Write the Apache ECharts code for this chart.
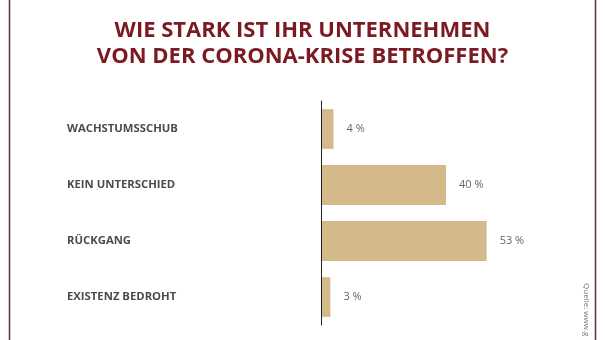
<!DOCTYPE html>
<html>
<head>
<meta charset="utf-8">
<script src="https://cdn.jsdelivr.net/npm/echarts@6/dist/echarts.min.js"></script>
<style>
html,body{margin:0;padding:0;background:#fff;}
#c{width:605px;height:340px;}
</style>
</head>
<body>
<div id="c"></div>
<script>
const titleLines = ['WIE STARK IST IHR UNTERNEHMEN', 'VON DER CORONA-KRISE BETROFFEN?'];
const categories = ['WACHSTUMSSCHUB', 'KEIN UNTERSCHIED', 'RÜCKGANG', 'EXISTENZ BEDROHT'];
const values = [4, 40, 53, 3];
const sourceText = 'Quelle: www.g';

const chart = echarts.init(document.getElementById('c'), null, {renderer: 'canvas'});
chart.setOption({
  animation: false,
  backgroundColor: '#fff',
  title: {
    text: titleLines.join('\n'),
    left: 'center',
    top: 13,
    textStyle: {
      fontFamily: 'Open Sans',
      fontWeight: 'bold',
      fontSize: 22,
      lineHeight: 26,
      color: '#7b1a22'
    }
  },
  grid: {left: 321, top: 101, width: 250, height: 224, containLabel: false},
  xAxis: {
    type: 'value', min: 0, max: 80,
    show: false
  },
  yAxis: {
    type: 'category',
    data: categories,
    inverse: true,
    z: 5,
    axisLine: {show: true, lineStyle: {color: '#222', width: 1}},
    axisTick: {show: false},
    splitLine: {show: false},
    axisLabel: {
      align: 'left',
      margin: 254,
      fontFamily: 'Open Sans',
      fontWeight: 'bold',
      fontSize: 11.3,
      color: '#4a4a4f'
    }
  },
  series: [{
    type: 'bar',
    data: values,
    barCategoryGap: '29%',
    itemStyle: {color: '#d4b98a'},
    label: {
      show: true,
      position: 'right',
      distance: 13,
      formatter: '{c} %',
      fontFamily: 'Open Sans',
      fontSize: 11,
      color: '#666'
    }
  }],
  graphic: [
    {type: 'line', shape: {x1: 9.5, y1: -5, x2: 9.5, y2: 345}, style: {stroke: '#6b2a32', lineWidth: 1.5}},
    {type: 'line', shape: {x1: 595.5, y1: -5, x2: 595.5, y2: 345}, style: {stroke: '#6b2a32', lineWidth: 1.5}},
    {type: 'text', x: 586, y: 283, rotation: -Math.PI / 2,
     style: {text: sourceText, fontFamily: 'Open Sans', fontSize: 8, fill: '#777', textVerticalAlign: 'middle'}}
  ]
});
</script>
</body>
</html>
